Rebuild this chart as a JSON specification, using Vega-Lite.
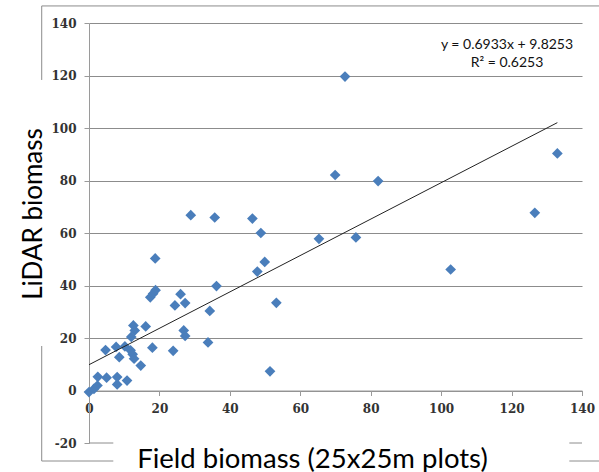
{
  "$schema": "https://vega.github.io/schema/vega-lite/v6.json",
  "autosize": {"type": "none"},
  "padding": {"left": 89, "top": 23, "right": 17, "bottom": 29},
  "width": 493,
  "height": 420,
  "background": "white",
  "config": {"view": {"stroke": null}},
  "datasets": {
    "points": [
      {"field": 0.0, "lidar": -0.6}, {"field": 1.4, "lidar": 0.6}, {"field": 2.4, "lidar": 1.9},
      {"field": 2.5, "lidar": 5.2}, {"field": 5.0, "lidar": 4.9}, {"field": 8.0, "lidar": 5.1},
      {"field": 8.0, "lidar": 2.3}, {"field": 10.8, "lidar": 3.8}, {"field": 4.7, "lidar": 15.4},
      {"field": 7.7, "lidar": 16.6}, {"field": 8.6, "lidar": 12.7}, {"field": 10.2, "lidar": 16.8},
      {"field": 11.8, "lidar": 15.3}, {"field": 12.4, "lidar": 13.8}, {"field": 12.8, "lidar": 12.1},
      {"field": 14.7, "lidar": 9.5}, {"field": 12.6, "lidar": 24.8}, {"field": 13.0, "lidar": 22.9},
      {"field": 12.0, "lidar": 20.4}, {"field": 16.1, "lidar": 24.4}, {"field": 18.0, "lidar": 16.3},
      {"field": 17.4, "lidar": 35.5}, {"field": 18.2, "lidar": 36.9}, {"field": 18.9, "lidar": 38.2},
      {"field": 18.8, "lidar": 50.3}, {"field": 23.9, "lidar": 15.1}, {"field": 24.4, "lidar": 32.4},
      {"field": 26.0, "lidar": 36.7}, {"field": 27.3, "lidar": 33.3}, {"field": 26.9, "lidar": 22.9},
      {"field": 27.3, "lidar": 20.8}, {"field": 33.8, "lidar": 18.3}, {"field": 34.3, "lidar": 30.3},
      {"field": 36.2, "lidar": 39.8}, {"field": 47.8, "lidar": 45.3}, {"field": 49.9, "lidar": 49.0},
      {"field": 53.2, "lidar": 33.4}, {"field": 51.4, "lidar": 7.3}, {"field": 28.9, "lidar": 66.8},
      {"field": 35.7, "lidar": 65.9}, {"field": 46.4, "lidar": 65.5}, {"field": 48.8, "lidar": 60.0},
      {"field": 65.3, "lidar": 57.8}, {"field": 75.8, "lidar": 58.3}, {"field": 72.7, "lidar": 119.6},
      {"field": 69.9, "lidar": 82.1}, {"field": 82.1, "lidar": 79.8}, {"field": 102.7, "lidar": 46.1},
      {"field": 126.6, "lidar": 67.7}, {"field": 133.0, "lidar": 90.3}
    ],
    "trend": [
      {"field": 0, "lidar": 9.8253},
      {"field": 133, "lidar": 102.04}
    ],
    "one": [{}]
  },
  "layer": [
    {
      "data": {"name": "one"},
      "mark": {"type": "rule", "color": "#8c8c8c", "strokeWidth": 1},
      "encoding": {
        "x": {"datum": -13.43, "type": "quantitative"},
        "x2": {"datum": 146},
        "y": {"datum": 146.5, "type": "quantitative"}
      }
    },
    {
      "data": {"name": "one"},
      "mark": {"type": "rule", "color": "#8c8c8c", "strokeWidth": 1},
      "encoding": {
        "x": {"datum": -13.43, "type": "quantitative"},
        "y": {"datum": 146.5, "type": "quantitative"},
        "y2": {"datum": 118.3}
      }
    },
    {
      "data": {"name": "one"},
      "mark": {"type": "rule", "color": "#8c8c8c", "strokeWidth": 1},
      "encoding": {
        "x": {"datum": -13.43, "type": "quantitative"},
        "y": {"datum": 16.95, "type": "quantitative"},
        "y2": {"datum": -26.86}
      }
    },
    {
      "data": {"name": "one"},
      "mark": {"type": "rule", "color": "#8c8c8c", "strokeWidth": 1},
      "encoding": {
        "x": {"datum": -13.43, "type": "quantitative"},
        "x2": {"datum": 6.9},
        "y": {"datum": -26.86, "type": "quantitative"}
      }
    },
    {
      "data": {"name": "one"},
      "mark": {"type": "rule", "color": "#8c8c8c", "strokeWidth": 1},
      "encoding": {
        "x": {"datum": 136.4, "type": "quantitative"},
        "x2": {"datum": 146},
        "y": {"datum": -26.86, "type": "quantitative"}
      }
    },
    {
      "data": {"name": "one"},
      "mark": {"type": "rule", "color": "#8c8c8c", "strokeWidth": 1},
      "encoding": {
        "x": {"datum": 0, "type": "quantitative"},
        "x2": {"datum": 6.9},
        "y": {"datum": -20, "type": "quantitative"}
      }
    },
    {
      "data": {"name": "one"},
      "mark": {"type": "rule", "color": "#8c8c8c", "strokeWidth": 1},
      "encoding": {
        "x": {"datum": 136.4, "type": "quantitative"},
        "x2": {"datum": 140},
        "y": {"datum": -20, "type": "quantitative"}
      }
    },
    {
      "data": {"name": "points"},
      "mark": {"type": "point", "shape": "diamond", "filled": true, "size": 115, "color": "#4a7ebb", "opacity": 1},
      "encoding": {
        "x": {
          "field": "field", "type": "quantitative",
          "scale": {"domain": [0, 140], "nice": false, "zero": false},
          "axis": {
            "orient": "bottom",
            "offset": -52.5,
            "values": [0, 20, 40, 60, 80, 100, 120, 140],
            "labelExpr": "'' + datum.value",
            "grid": false,
            "domainColor": "#9a9a9a",
            "tickColor": "#9a9a9a",
            "tickSize": 5,
            "labelFont": "DejaVu Serif",
            "labelFontSize": 12,
            "labelFontWeight": "bold",
            "labelColor": "#333333",
            "labelPadding": 8,
            "labelOverlap": false,
            "labelFlush": false,
            "title": "Field  biomass (25x25m plots)",
            "titleFont": "Lato",
            "titleFontSize": 27.5,
            "titleFontWeight": "normal",
            "titleColor": "#000000",
            "titleX": 223,
            "titleY": 76.5,
            "titleAlign": "center",
            "titleBaseline": "alphabetic"
          }
        },
        "y": {
          "field": "lidar", "type": "quantitative",
          "scale": {"domain": [-20, 140], "nice": false, "zero": false},
          "axis": {
            "orient": "left",
            "values": [-20, 0, 20, 40, 60, 80, 100, 120, 140],
            "labelExpr": "'' + datum.value",
            "grid": true,
            "gridColor": "#8c8c8c",
            "gridOpacity": {"condition": {"test": "datum.value === -20", "value": 0}, "value": 1},
            "domainColor": "#9a9a9a",
            "tickColor": "#9a9a9a",
            "tickSize": 5,
            "labelFont": "DejaVu Serif",
            "labelFontSize": 12,
            "labelFontWeight": "bold",
            "labelColor": "#333333",
            "labelPadding": 8,
            "labelOverlap": false,
            "labelFlush": false,
            "title": "LiDAR  biomass",
            "titleFont": "Lato",
            "titleFontSize": 26,
            "titleFontWeight": "normal",
            "titleColor": "#000000",
            "titleAngle": 270,
            "titleX": -47.5,
            "titleY": 190.5,
            "titleAlign": "center",
            "titleBaseline": "alphabetic"
          }
        }
      }
    },
    {
      "data": {"name": "trend"},
      "mark": {"type": "line", "color": "#222222", "strokeWidth": 1},
      "encoding": {
        "x": {"field": "field", "type": "quantitative"},
        "y": {"field": "lidar", "type": "quantitative"}
      }
    },
    {
      "data": {"name": "one"},
      "mark": {"type": "text", "font": "Lato", "fontSize": 14, "color": "#111111", "align": "center", "baseline": "middle", "text": "y = 0.6933x + 9.8253"},
      "encoding": {
        "x": {"datum": 118.7, "type": "quantitative"},
        "y": {"datum": 131.6, "type": "quantitative"}
      }
    },
    {
      "data": {"name": "one"},
      "mark": {"type": "text", "font": "Lato", "fontSize": 14, "color": "#111111", "align": "center", "baseline": "middle", "text": "R² = 0.6253"},
      "encoding": {
        "x": {"datum": 118.7, "type": "quantitative"},
        "y": {"datum": 124.6, "type": "quantitative"}
      }
    }
  ]
}
